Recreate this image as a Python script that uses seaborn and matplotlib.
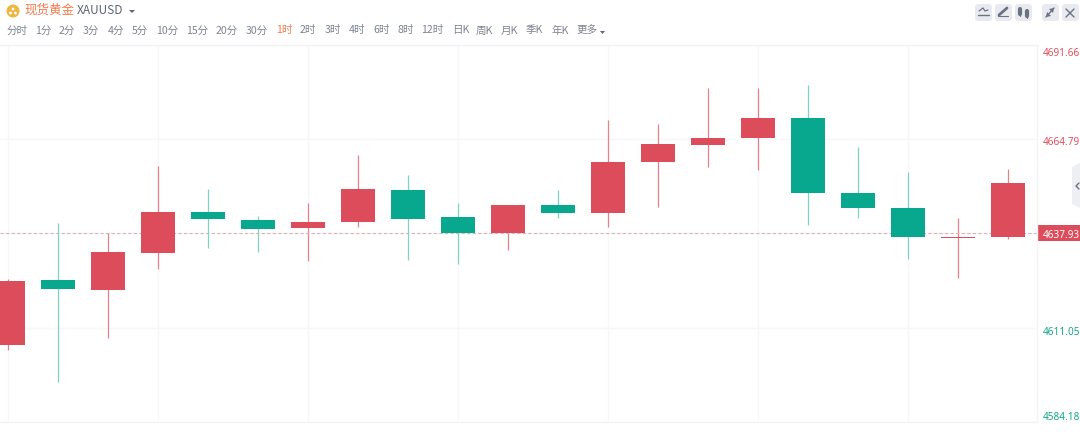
import matplotlib
matplotlib.use("Agg")
import matplotlib.pyplot as plt
import matplotlib.transforms as mtrans
from matplotlib.patches import FancyBboxPatch, Circle, Polygon
import numpy as np
import seaborn as sns

sns.set_theme(style="white")
plt.rcParams['font.family'] = ['Noto Sans CJK SC', 'DejaVu Sans']

# ---- data ----
highs = [4624.84, 4640.76, 4637.92, 4656.97, 4650.43, 4642.75, 4646.45, 4660.10, 4654.41, 4646.45, 4645.88,
         4650.15, 4670.05, 4668.91, 4679.15, 4679.15, 4680.00, 4662.37, 4655.27, 4642.19, 4656.12]
lows = [4604.65, 4595.55, 4608.06, 4627.68, 4633.66, 4632.52, 4629.96, 4639.63, 4630.24, 4629.11, 4633.09,
        4642.19, 4639.63, 4645.31, 4656.69, 4655.83, 4640.19, 4642.19, 4630.53, 4625.12, 4636.21]
body_tops = [4624.27, 4624.56, 4632.52, 4643.89, 4643.89, 4641.62, 4641.05, 4650.43, 4650.15, 4642.47, 4645.88,
             4645.88, 4658.11, 4663.23, 4664.93, 4670.62, 4670.62, 4649.29, 4645.03, 4636.78, 4652.14]
body_bottoms = [4606.07, 4622.00, 4621.71, 4632.23, 4641.90, 4639.06, 4639.34, 4641.05, 4641.90, 4637.92, 4637.92,
                4643.61, 4643.61, 4658.11, 4662.94, 4664.93, 4649.29, 4645.03, 4636.78, 4636.50, 4636.78]
is_red = [1, 0, 1, 1, 0, 0, 1, 1, 0, 0, 1, 0, 1, 1, 1, 1, 0, 0, 0, 1, 1]
price_ticks = [4691.66, 4664.79, 4637.93, 4611.05, 4584.18]
tick_labels = ["4691.66", "4664.79", "4637.93", "4611.05", "4584.18"]
last_price = 4637.93
tabs = ["分时", "1分", "2分", "3分", "4分", "5分", "10分", "15分", "20分", "30分", "1时", "2时", "3时", "4时",
        "6时", "8时", "12时", "日K", "周K", "月K", "季K", "年K", "更多"]
tab_x = [7, 35, 59, 83, 107.5, 131.6, 156, 186, 216, 246, 276, 300, 325, 349, 373, 397, 421, 452, 476, 501, 526, 551, 576]

RED, GREEN = "#dc4c5a", "#07a88e"
RED_W, GREEN_W = "#e8808c", "#7fd3c2"
GRID = "#f7f7f9"

W, H = 1080, 440
fig = plt.figure(figsize=(W / 100, H / 100), dpi=100, facecolor="white")
ax = fig.add_axes([0, (H - 422) / H, 1037 / W, (422 - 44.5) / H])

idx = np.arange(len(highs))
red = np.array(is_red, bool)
hi, lo, top, bot = map(np.array, (highs, lows, body_tops, body_bottoms))

ax.vlines(idx[red], lo[red], hi[red], color=RED_W, lw=0.9, zorder=2)
ax.vlines(idx[~red], lo[~red], hi[~red], color=GREEN_W, lw=0.9, zorder=2)
for mask, col in ((red, RED), (~red, GREEN)):
    sns.barplot(x=idx[mask], y=(top - bot)[mask], bottom=bot[mask], color=col, width=0.68, saturation=1,
                native_scale=True, orient="x", errorbar=None, linewidth=0, ax=ax, zorder=3)

ax.set_xlim(-0.16, 20.58)
ax.set_ylim(price_ticks[-1], price_ticks[0])
ax.set_xticks(idx[::3])
ax.set_xticklabels([])
ax.tick_params(axis="x", length=0)
ax.set_xlabel("")
ax.set_ylabel("")
ax.grid(True, color=GRID, lw=1, zorder=0)
ax.set_axisbelow(True)
ax.axhline(last_price, color="#d9b4b8", lw=0.8, ls=(0, (3, 2)), zorder=2.5)
for s in ("top", "bottom", "right"):
    ax.spines[s].set_visible(True)
    ax.spines[s].set_color("#f3f3f5")
    ax.spines[s].set_linewidth(1)
ax.spines["left"].set_visible(False)

# right-hand price axis
ax.yaxis.tick_right()
ax.set_yticks(price_ticks)
ax.set_yticklabels(tick_labels, fontsize=7.2, family=['Noto Sans', 'DejaVu Sans'])
ax.tick_params(axis="y", length=0, pad=4.2)
offsets = [-7, -2, -0.5, -3, 6]
colors = ["#e0505c", "#e0505c", "white", "#14a58a", "#14a58a"]
for lab, off, c, v in zip(ax.get_yticklabels(), offsets, colors, price_ticks):
    lab.set_color(c)
    lab.set_transform(lab.get_transform() + mtrans.ScaledTranslation(0, off / 100, fig.dpi_scale_trans))
    if v == last_price:
        lab.set_fontweight("bold")

# UI overlay in pixel coordinates, underneath the chart axes
ui = fig.add_axes([0, 0, 1, 1], facecolor="none")
ui.set_zorder(-1)
ui.set_xlim(0, W)
ui.set_ylim(H, 0)
ui.axis("off")
ui.add_patch(Polygon([(1038, 225), (1080, 225), (1080, 241), (1038, 241)], color=RED, zorder=1, lw=0))

ui.add_patch(Circle((13, 11), 6.5, color="#eeb83f", lw=0))
ui.add_patch(Circle((13, 9), 1.4, color="white", lw=0))
ui.add_patch(Circle((10.5, 13), 1.4, color="white", lw=0))
ui.add_patch(Circle((15.5, 13), 1.4, color="white", lw=0))
ui.text(24, 10.5, "现货黄金", color="#f47a4c", fontsize=9, va="center", ha="left")
ui.text(77, 10.5, "XAUUSD", color="#5f6675", fontsize=8.6, va="center", ha="left")
ui.add_patch(Polygon([(129, 10), (135, 10), (132, 13)], color="#5f6675", lw=0))
for t, x in zip(tabs, tab_x):
    ui.text(x, 30.5, t, color="#f47a4c" if t == "1时" else "#7d8490", fontsize=7.6, va="center", ha="left")
ui.add_patch(Polygon([(600, 31), (605, 31), (602.5, 34), ], color="#5f6675", lw=0))

for x0 in (975, 995, 1015, 1042, 1062):
    ui.add_patch(FancyBboxPatch((x0 + 2, 6), 13, 13, boxstyle="round,pad=2,rounding_size=3", fc="#e8eaef", ec="none"))
ic = "#6b7280"
ui.plot([979, 983, 985, 988], [11, 8, 11, 10], color=ic, lw=0.9)
ui.plot([978, 989], [15.5, 15.5], color=ic, lw=1)
ui.plot([999, 1007], [15, 8], color=ic, lw=2)
ui.plot([998, 1008], [16.5, 16.5], color=ic, lw=0.8)
ui.plot([1020, 1020], [7, 16], color=ic, lw=0.8)
ui.plot([1020, 1020], [9, 14], color=ic, lw=3)
ui.plot([1027, 1027], [9, 18], color=ic, lw=0.8)
ui.plot([1027, 1027], [11, 16], color=ic, lw=3)
ui.plot([1046, 1054], [17, 8], color=ic, lw=1)
ui.add_patch(Polygon([(1049, 9), (1054, 8), (1053, 13)], color=ic, lw=0))
ui.add_patch(Polygon([(1047, 12), (1046, 17), (1051, 16)], color=ic, lw=0))
ui.plot([1066, 1074], [9, 17], color=ic, lw=1)
ui.plot([1066, 1074], [17, 9], color=ic, lw=1)

ui.add_patch(Polygon([(1072, 167), (1080, 163), (1080, 208), (1072, 204)], color="#eeeff2", lw=0))
ui.plot([1079, 1076, 1079], [183, 186, 189], color=ic, lw=1)

fig.savefig("out.png", dpi=100, facecolor="white")
